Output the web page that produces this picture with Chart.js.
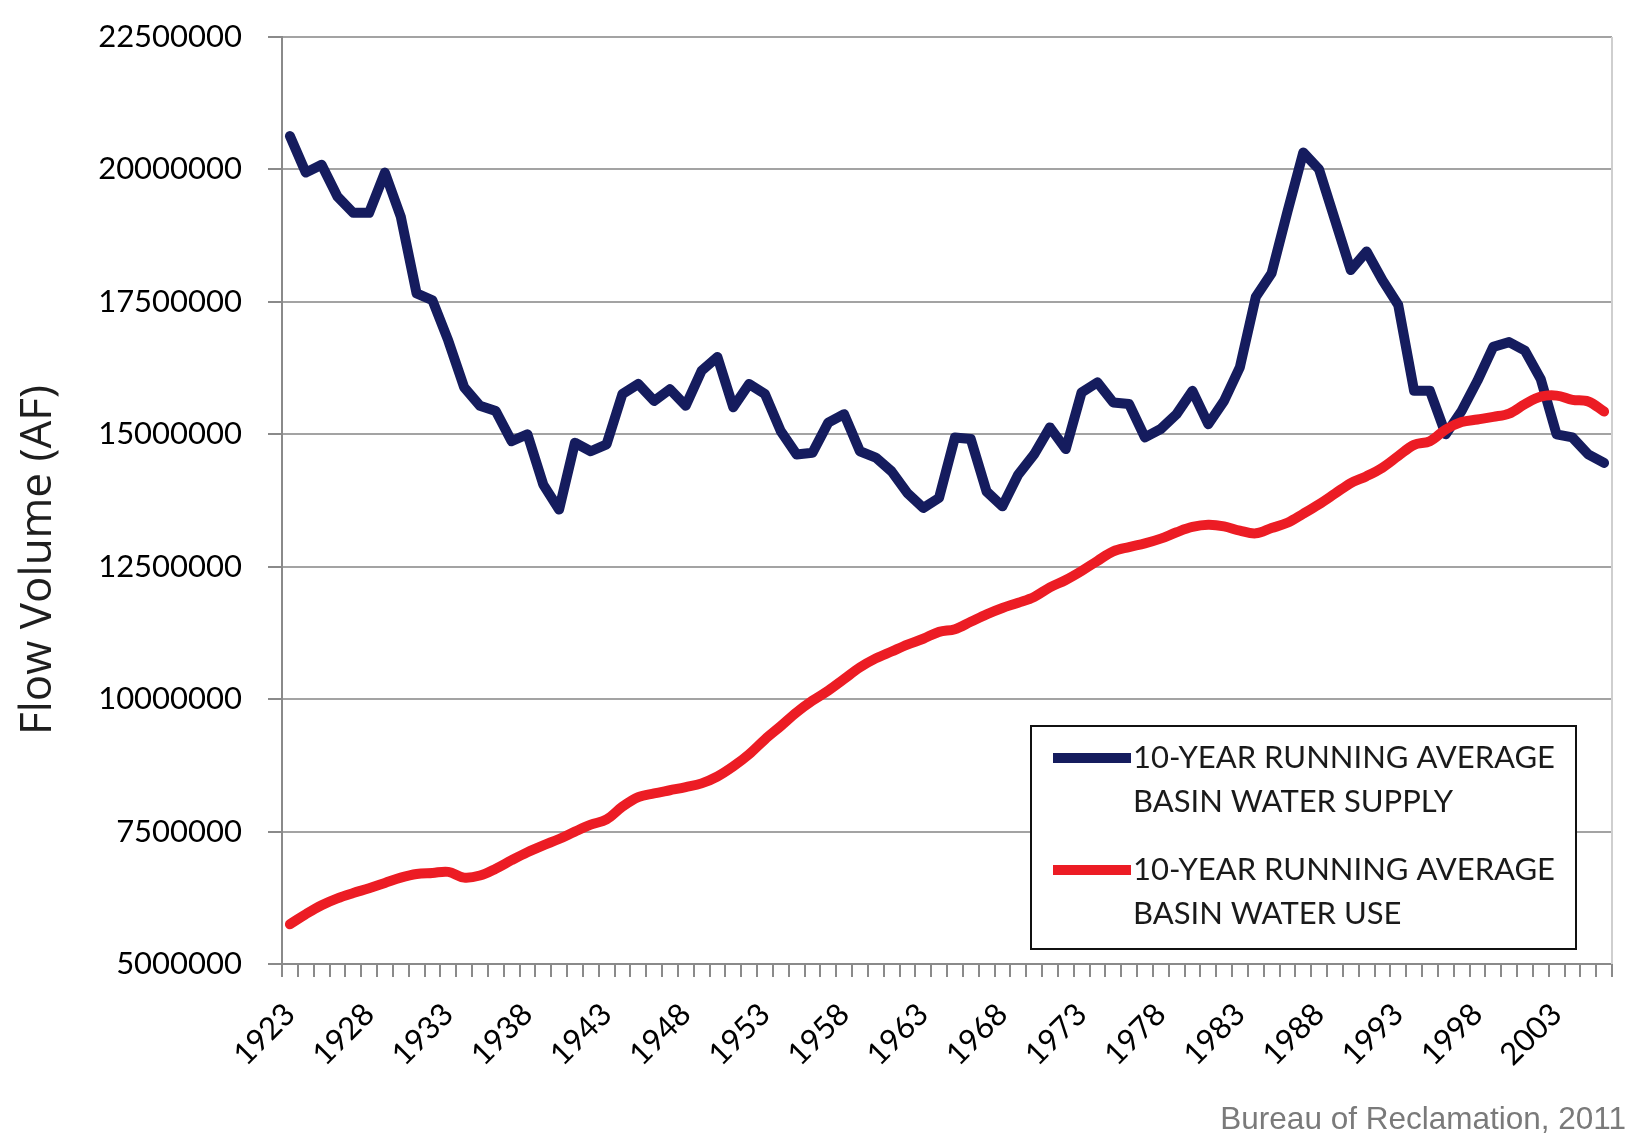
<!DOCTYPE html>
<html>
<head>
<meta charset="utf-8">
<title>Flow Volume</title>
<script src="https://cdn.jsdelivr.net/npm/chart.js@4/dist/chart.umd.min.js"></script>
<style>
  html, body { margin: 0; padding: 0; background: #fff; }
  #boite { position: relative; width: 1630px; height: 1138px; }
  #source {
    position: absolute; right: 4px; top: 1100px;
    font-family: "Liberation Sans", Arial, sans-serif; font-size: 31.5px; color: #7a7a7a;
  }
</style>
</head>
<body>
<div id="boite">
  <canvas id="graphique"></canvas>
  <div id="source">Bureau of Reclamation, 2011</div>
</div>
<script>
const annees = [
  "1923","1924","1925","1926","1927","1928","1929","1930","1931","1932",
  "1933","1934","1935","1936","1937","1938","1939","1940","1941","1942",
  "1943","1944","1945","1946","1947","1948","1949","1950","1951","1952",
  "1953","1954","1955","1956","1957","1958","1959","1960","1961","1962",
  "1963","1964","1965","1966","1967","1968","1969","1970","1971","1972",
  "1973","1974","1975","1976","1977","1978","1979","1980","1981","1982",
  "1983","1984","1985","1986","1987","1988","1989","1990","1991","1992",
  "1993","1994","1995","1996","1997","1998","1999","2000","2001","2002",
  "2003","2004","2005","2006"
];

// annees affichees sous l'axe
const etiquettesX = ["1923","1928","1933","1938","1943","1948","1953","1958","1963","1968",
  "1973","1978","1983","1988","1993","1998","2003"];

const approvisionnement = [
  20630000,19940000,20090000,19490000,19180000,19180000,19940000,19110000,17660000,17530000,
  16770000,15890000,15540000,15440000,14870000,15000000,14050000,13580000,14840000,14680000,
  14810000,15760000,15950000,15630000,15850000,15540000,16200000,16460000,15510000,15950000,
  15760000,15060000,14620000,14650000,15220000,15380000,14680000,14560000,14300000,13890000,
  13610000,13800000,14940000,14910000,13920000,13640000,14240000,14620000,15130000,14720000,
  15790000,15980000,15600000,15570000,14940000,15100000,15380000,15820000,15190000,15630000,
  16270000,17590000,18040000,19200000,20320000,20000000,19050000,18100000,18450000,17910000,
  17440000,15820000,15820000,15000000,15440000,16010000,16650000,16740000,16580000,16040000,
  15000000,14940000,14620000,14460000
];

const utilisation = [
  5750000,5940000,6110000,6240000,6340000,6430000,6530000,6630000,6700000,6720000,
  6740000,6630000,6670000,6800000,6960000,7110000,7240000,7360000,7500000,7630000,
  7730000,7970000,8150000,8220000,8280000,8340000,8410000,8540000,8730000,8960000,
  9240000,9490000,9750000,9970000,10160000,10380000,10600000,10770000,10900000,11030000,
  11140000,11270000,11320000,11460000,11600000,11720000,11820000,11930000,12110000,12250000,
  12420000,12610000,12790000,12870000,12940000,13030000,13150000,13250000,13290000,13260000,
  13180000,13130000,13230000,13330000,13500000,13680000,13880000,14080000,14210000,14370000,
  14590000,14800000,14870000,15090000,15230000,15280000,15330000,15390000,15570000,15710000,
  15730000,15650000,15620000,15430000
];

const legendeSupply = ["10-YEAR RUNNING AVERAGE", "BASIN WATER SUPPLY"];
const legendeUse = ["10-YEAR RUNNING AVERAGE", "BASIN WATER USE"];
const titreY = "Flow Volume (AF)";

const BLEU = "#151c5e";
const ROUGE = "#ec1c24";
const GRIS_GRILLE = "#a3a3a3";
const GRIS_AXE = "#8a8a8a";

// cadre droit, legende et titre de l'axe Y
const extras = {
  id: "extras",
  beforeDatasetsDraw(chart){
    const { ctx, chartArea } = chart;
    ctx.save();
    ctx.strokeStyle = "#cfcfcf";
    ctx.lineWidth = 2;
    ctx.beginPath();
    ctx.moveTo(chartArea.right, chartArea.top);
    ctx.lineTo(chartArea.right, chartArea.bottom);
    ctx.stroke();
    ctx.restore();
  },
  afterDraw(chart){
    const ctx = chart.ctx;
    ctx.save();

    // titre Y
    ctx.translate(51, 560);
    ctx.rotate(-Math.PI / 2);
    ctx.font = '44px "Open Sans"';
    ctx.fillStyle = "#1e1e1e";
    ctx.textAlign = "center";
    ctx.textBaseline = "alphabetic";
    ctx.fillText(titreY, 0, 0);
    ctx.setTransform(1, 0, 0, 1, 0, 0);

    // legende
    const bx = 1031, by = 726, bw = 545, bh = 223;
    ctx.fillStyle = "#fff";
    ctx.fillRect(bx, by, bw, bh);
    ctx.strokeStyle = "#111";
    ctx.lineWidth = 2;
    ctx.strokeRect(bx, by, bw, bh);

    const entrees = [
      { couleur: chart.data.datasets[0].borderColor, lignes: legendeSupply, y: 758 },
      { couleur: chart.data.datasets[1].borderColor, lignes: legendeUse, y: 870 }
    ];
    ctx.font = '31px Lato';
    ctx.textAlign = "left";
    ctx.textBaseline = "middle";
    entrees.forEach(e => {
      ctx.strokeStyle = e.couleur;
      ctx.lineWidth = 10;
      ctx.lineCap = "butt";
      ctx.beginPath();
      ctx.moveTo(1053, e.y);
      ctx.lineTo(1131, e.y);
      ctx.stroke();
      ctx.fillStyle = "#1a1a1a";
      ctx.fillText(e.lignes[0], 1133, e.y);
      ctx.fillText(e.lignes[1], 1133, e.y + 44);
    });
    ctx.restore();
  }
};

function dessiner(){
  const ctx = document.getElementById("graphique").getContext("2d");
  new Chart(ctx, {
    type: "line",
    data: {
      labels: annees,
      datasets: [
        {
          label: legendeSupply.join(" "),
          data: approvisionnement,
          borderColor: BLEU,
          borderWidth: 10,
          tension: 0,
          pointRadius: 0,
          borderJoinStyle: "round",
          borderCapStyle: "round",
          order: 1
        },
        {
          label: legendeUse.join(" "),
          data: utilisation,
          borderColor: ROUGE,
          borderWidth: 10,
          tension: 0.35,
          pointRadius: 0,
          borderJoinStyle: "round",
          borderCapStyle: "round",
          order: 0
        }
      ]
    },
    options: {
      responsive: true,
      maintainAspectRatio: false,
      animation: false,
      events: [],
      layout: { padding: { top: 37, right: 18, bottom: 0, left: 0 } },
      plugins: {
        legend: { display: false },
        tooltip: { enabled: false }
      },
      scales: {
        x: {
          type: "category",
          offset: true,
          grid: {
            offset: true,
            drawOnChartArea: false,
            drawTicks: true,
            tickLength: 13,
            color: GRIS_AXE,
            lineWidth: 2
          },
          border: { color: GRIS_AXE, width: 2 },
          ticks: {
            autoSkip: false,
            maxRotation: 45,
            minRotation: 45,
            padding: 19,
            color: "#000",
            font: { family: "Lato", size: 31 },
            callback: function(v, i){
              const a = annees[i];
              return etiquettesX.includes(a) ? a : "";
            }
          },
          afterFit(scale){
            scale.height = 174;
            scale.paddingLeft = 0;
            scale.paddingRight = 0;
          }
        },
        y: {
          min: 5000000,
          max: 22500000,
          grid: {
            color: GRIS_GRILLE,
            lineWidth: 2,
            tickLength: 14,
            tickColor: GRIS_AXE
          },
          border: { color: GRIS_AXE, width: 2 },
          ticks: {
            stepSize: 2500000,
            padding: 26,
            color: "#000",
            font: { family: "Lato", size: 31 },
            callback: v => String(v)
          },
          afterFit(scale){
            scale.width = 282;
            scale.paddingTop = 0;
            scale.paddingBottom = 0;
          }
        }
      }
    },
    plugins: [extras]
  });
}

Promise.all([
  document.fonts.load('31px Lato'),
  document.fonts.load('44px "Open Sans"')
]).then(dessiner, dessiner);
</script>
</body>
</html>
